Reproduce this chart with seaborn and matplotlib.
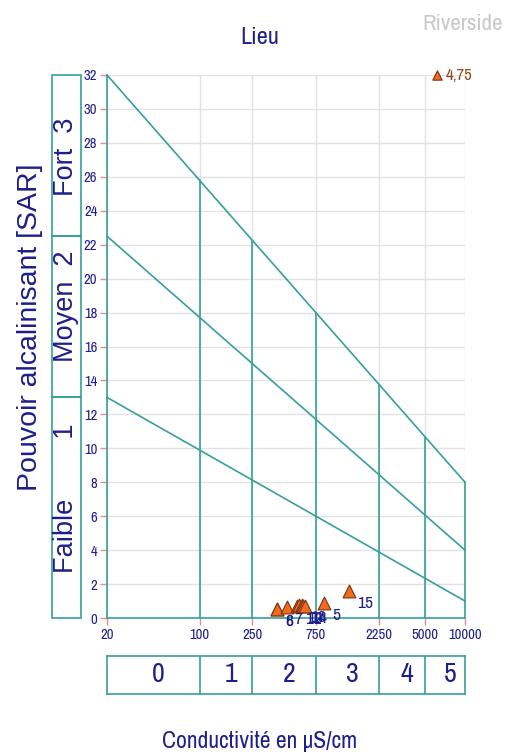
import numpy as np
import pandas as pd
import matplotlib
matplotlib.use("Agg")
import matplotlib.pyplot as plt
import seaborn as sns
from matplotlib.patches import Rectangle
from matplotlib.ticker import NullLocator

# Sample measurements (conductivity in µS/cm, sodium adsorption ratio)
point_ids = ["8", "6", "7", "1", "10", "13", "14", "2", "5", "15"]
conductivity = [383, 383, 453, 545, 565, 587, 600, 622, 865, 1343]
sar = [0.55, 0.55, 0.67, 0.70, 0.75, 0.78, 0.72, 0.70, 0.90, 1.60]

# Highest sample, shown at the top edge
peak_label = ["4,75"]
peak_conductivity = [6160]
peak_sar = [32.0]

# Riverside classification
ec_ticks = [20, 100, 250, 750, 2250, 5000, 10000]
salinity_bounds = [20, 100, 250, 750, 2250, 5000, 10000]
salinity_classes = ["0", "1", "2", "3", "4", "5"]
sar_ticks = list(range(0, 33, 2))
sodium_line_start = [13, 22.5, 32]   # SAR at 20 µS/cm
sodium_line_end = [1, 4, 8]          # SAR at 10000 µS/cm
sodium_classes = ["Faible        1", "Moyen  2", "Fort  3"]

TEAL = "#35A09A"
NAVY = "#1E1E8C"
GRID = "#E2E2E2"
TICK = "#F08A8A"

sns.set_theme(style="white")
NARROW = ["Archivo Narrow", "DejaVu Sans"]
WIDE = ["Liberation Sans", "DejaVu Sans"]
plt.rcParams["font.family"] = NARROW

W, H = 506, 754
fig = plt.figure(figsize=(W / 100, H / 100), dpi=100)

# ---- main diagram ----
ax = fig.add_axes([107 / W, 1 - 618 / H, 358 / W, 543 / H])
ax.set_xscale("log")
ax.set_xlim(20, 10000)
ax.set_ylim(0, 32)
ax.xaxis.set_minor_locator(NullLocator())
ax.set_xticks(ec_ticks)
ax.set_xticklabels([str(t) for t in ec_ticks])
ax.set_yticks(sar_ticks)
ax.set_yticklabels([str(t) for t in sar_ticks])
ax.grid(True, color=GRID, lw=1)
ax.set_axisbelow(True)
for s in ax.spines.values():
    s.set_visible(False)
ax.tick_params(axis="both", which="major", length=5, width=1, color=TICK,
               labelcolor=NAVY, labelsize=10.5, pad=2, bottom=True, left=True)

lx0, lx1 = np.log10(salinity_bounds[0]), np.log10(salinity_bounds[-1])


def top_line(ec):
    f = (np.log10(ec) - lx0) / (lx1 - lx0)
    return sodium_line_start[-1] + (sodium_line_end[-1] - sodium_line_start[-1]) * f


lw = 1.2
ax.plot([20, 20], [0, 32], color=TEAL, lw=lw, clip_on=False)
ax.plot([20, 10000], [0, 0], color=TEAL, lw=lw, clip_on=False)
for s0, s1 in zip(sodium_line_start, sodium_line_end):
    ax.plot([20, 10000], [s0, s1], color=TEAL, lw=lw, clip_on=False)
for b in salinity_bounds[1:]:
    ax.plot([b, b], [0, top_line(b)], color=TEAL, lw=lw, clip_on=False)

df = pd.DataFrame({"ec": conductivity, "sar": sar, "id": point_ids})
sns.scatterplot(data=df, x="ec", y="sar", marker="^", s=85, color="#F26A1E",
                edgecolor="#7A3410", linewidth=0.8, ax=ax, clip_on=False,
                zorder=5, legend=False)
for _, r in df.iterrows():
    ax.annotate(r["id"], (r["ec"], r["sar"]), xytext=(8, -13),
                textcoords="offset pixels", color=NAVY, fontsize=12.5,
                ha="left", va="center", annotation_clip=False, zorder=6)

pk = pd.DataFrame({"ec": peak_conductivity, "sar": peak_sar, "id": peak_label})
sns.scatterplot(data=pk, x="ec", y="sar", marker="^", s=45, color="#F26A1E",
                edgecolor="#7A3410", linewidth=0.8, ax=ax, clip_on=False,
                zorder=5, legend=False)
for _, r in pk.iterrows():
    ax.annotate(r["id"], (r["ec"], r["sar"]), xytext=(9, 0),
                textcoords="offset pixels", color="#8A4A1E", fontsize=12,
                ha="left", va="center", annotation_clip=False, zorder=6)
ax.set_xlabel("")
ax.set_ylabel("")

# ---- sodium class boxes ----
lax = fig.add_axes([52 / W, 1 - 618 / H, 28.7 / W, 543 / H])
lax.set_xlim(0, 1)
lax.set_ylim(0, 32)
lax.axis("off")
edges = [0] + sodium_line_start
label_shift = [9, 11, -1]   # vertical nudge of each class name, in pixels
for lo, hi, name, dy in zip(edges[:-1], edges[1:], sodium_classes, label_shift):
    lax.add_patch(Rectangle((0, lo), 1, hi - lo, fill=False, ec=TEAL, lw=1.2,
                            clip_on=False))
    lax.annotate(name, (0.5, (lo + hi) / 2), xytext=(0, dy),
                 textcoords="offset pixels", rotation=90, ha="center",
                 va="center", color=NAVY, fontsize=19.5, family=WIDE)

# ---- salinity class boxes ----
bax = fig.add_axes([107 / W, 1 - 694 / H, 358 / W, 38 / H])
bax.set_xscale("log")
bax.set_xlim(20, 10000)
bax.set_ylim(0, 1)
bax.set_xticks([])
bax.set_yticks([])
bax.xaxis.set_minor_locator(NullLocator())
for s in bax.spines.values():
    s.set_color(TEAL)
    s.set_linewidth(1.2)
for b in salinity_bounds[1:-1]:
    bax.plot([b, b], [0, 1], color=TEAL, lw=1.2)
for lo, hi, name in zip(salinity_bounds[:-1], salinity_bounds[1:], salinity_classes):
    mid = np.sqrt(lo * hi)
    bax.annotate(name, (mid, 0.5), xytext=(5, 0), textcoords="offset pixels",
                 ha="center", va="center", color=NAVY, fontsize=20)

# ---- titles ----
fig.text(260 / W, 1 - 37 / H, "Lieu", ha="center", va="center", color=NAVY,
         fontsize=17.5)
fig.text(503 / W, 1 - 24 / H, "Riverside", ha="right", va="center",
         color="#C8C8C8", fontsize=16.5)
fig.text(30 / W, 1 - 327 / H, "Pouvoir alcalinisant [SAR]", rotation=90,
         ha="center", va="center", color=NAVY, fontsize=20.5, family=WIDE)
fig.text(260 / W, 1 - 741 / H, "Conductivité en µS/cm", ha="center",
         va="center", color=NAVY, fontsize=17)

fig.savefig("out.png", dpi=100)
